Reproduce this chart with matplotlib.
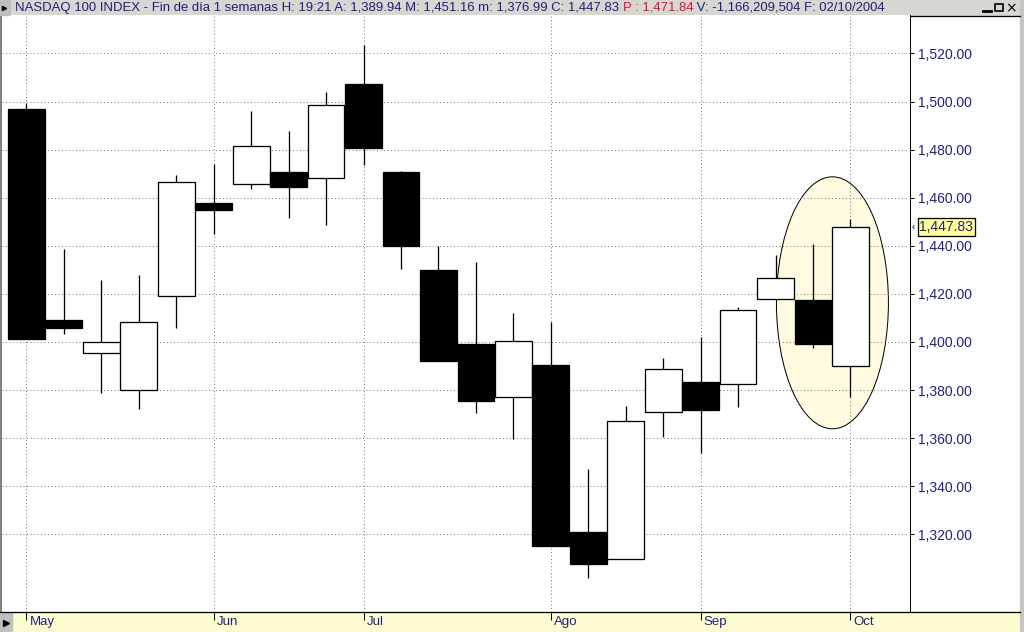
import numpy as np
import matplotlib.pyplot as plt
from matplotlib.patches import Rectangle, Ellipse
from matplotlib.ticker import FuncFormatter

plt.rcParams['font.family'] = ['Liberation Sans', 'DejaVu Sans']

# velas semanales NASDAQ 100 (may - oct 2004)
opens = [1496.9, 1409.1, 1395.3, 1379.9, 1419.0, 1457.7, 1465.6, 1470.6,
         1468.1, 1507.3, 1470.6, 1429.9, 1399.2, 1377.0, 1390.4, 1321.0,
         1309.6, 1370.8, 1383.2, 1382.4, 1417.8, 1417.5, 1389.94]
highs = [1499.5, 1438.5, 1425.8, 1427.9, 1469.4, 1474.1, 1496.0, 1487.7,
         1503.8, 1523.5, 1471.0, 1440.0, 1433.3, 1412.1, 1408.3, 1347.2,
         1373.4, 1393.3, 1402.1, 1414.4, 1436.2, 1440.7, 1451.16]
lows = [1401.4, 1403.5, 1378.7, 1372.3, 1405.9, 1445.0, 1463.7, 1451.7,
        1448.8, 1473.7, 1430.5, 1392.2, 1370.6, 1359.5, 1315.3, 1302.0,
        1309.6, 1360.6, 1353.8, 1372.8, 1417.8, 1397.4, 1376.99]
closes = [1401.4, 1405.9, 1399.9, 1408.2, 1466.4, 1455.0, 1481.4, 1464.6,
          1498.4, 1480.8, 1440.0, 1392.2, 1375.6, 1400.3, 1315.3, 1307.8,
          1367.0, 1388.6, 1371.9, 1413.2, 1426.5, 1399.0, 1447.83]

month_pos = [0, 5, 9, 14, 18, 22]
month_labels = ['May', 'Jun', 'Jul', 'Ago', 'Sep', 'Oct']
price_ticks = [1320, 1340, 1360, 1380, 1400, 1420, 1440, 1460, 1480, 1500, 1520]

# elipse que marca las ultimas tres velas
hl_center = (21.52, 1416.3)
hl_width = 2.99
hl_height = 104.8

title_main = ('NASDAQ 100 INDEX - Fin de día 1 semanas H: 19:21 A: 1,389.94 '
              'M: 1,451.16 m: 1,376.99 C: 1,447.83 ')
title_prev = 'P : 1,471.84'
title_rest = ' V: -1,166,209,504 F: 02/10/2004'

NAVY = '#20207f'
W, H = 1024, 632
PX = 0.72  # 1 pixel en puntos

fig = plt.figure(figsize=(W / 100, H / 100), dpi=100)
fig.patch.set_facecolor('white')

# fondo (coordenadas en pixeles)
bg = fig.add_axes([0, 0, 1, 1], zorder=-5)
bg.set_xlim(0, W)
bg.set_ylim(H, 0)
bg.axis('off')
bg.add_patch(Rectangle((0, 0), W, 15, color='#d8d6d0'))
bg.add_patch(Rectangle((0, 612), W, 20, color='#fdfcd0'))
bg.add_patch(Rectangle((0, 15), 1.5, 597, color='#808080'))
bg.add_patch(Rectangle((1020, 0), 4, H, color='#c8c6c0'))

# grafico principal
ax = fig.add_axes([2 / W, 20 / H, 907.5 / W, 597 / H])
ax.set_xlim(-0.654, 23.578)
ax.set_ylim(1287.7, 1536.0)
for s in ['top', 'left', 'bottom']:
    ax.spines[s].set_visible(False)
ax.spines['right'].set_linewidth(PX)

ax.yaxis.tick_right()
ax.set_yticks(price_ticks)
ax.yaxis.set_major_formatter(FuncFormatter(lambda v, p: f'{v:,.2f}'))
ax.tick_params(axis='y', length=3, width=PX, pad=3, labelsize=10,
               labelcolor=NAVY)
ax.set_xticks(month_pos)
ax.set_xticklabels([])
ax.tick_params(axis='x', length=6, width=PX, direction='out')

ax.set_axisbelow(True)
ax.grid(True, color='#808080', linewidth=PX, linestyle=(0, (1, 2.5)))

# elipse de resalte
ax.add_patch(Ellipse(hl_center, hl_width, hl_height, facecolor='#fffae0',
                     edgecolor='black', linewidth=PX, zorder=0.3))

# velas
body_w = 0.98
x = np.arange(len(opens))
ax.vlines(x, lows, highs, color='black', linewidth=PX * 1.3, zorder=2)
for i in x:
    o, c = opens[i], closes[i]
    fc = 'black' if c < o else 'white'
    ax.add_patch(Rectangle((i - body_w / 2, min(o, c)), body_w, abs(c - o),
                           facecolor=fc, edgecolor='black',
                           linewidth=PX * 1.3, zorder=3))

# etiquetas de meses
for pos, lab in zip(month_pos, month_labels):
    ax.annotate(lab, xy=(pos, 0), xycoords=('data', 'axes fraction'),
                xytext=(3, -4), textcoords='offset pixels', ha='left',
                va='top', fontsize=9.5, color=NAVY, annotation_clip=False)

# etiqueta del ultimo cierre
ax.annotate(f'{closes[-1]:,.2f}', xy=(1, closes[-1]),
            xycoords=('axes fraction', 'data'), xytext=(10, 0),
            textcoords='offset pixels', ha='left', va='center', fontsize=10,
            color=NAVY, annotation_clip=False,
            bbox=dict(boxstyle='square,pad=0.12', fc='#ffff99', ec='black',
                      lw=PX * 1.3))
ax.annotate('‹', xy=(1, closes[-1]), xycoords=('axes fraction', 'data'),
            xytext=(2, 0), textcoords='offset pixels', ha='left',
            va='center', fontsize=7, annotation_clip=False)

# capa superior: cabecera, bordes y botones
fg = fig.add_axes([0, 0, 1, 1], zorder=10)
fg.set_xlim(0, W)
fg.set_ylim(H, 0)
fg.axis('off')
fg.plot([0, 1020], [612, 612], color='black', lw=PX * 1.3)
fg.plot([909.5, 1020], [15.5, 15.5], color='black', lw=PX * 1.3)

t1 = fg.text(15, 8, title_main, fontsize=9.45, color=NAVY, va='center',
             ha='left')
t2 = fg.annotate(title_prev, xy=(1, 0), xycoords=t1, va='bottom',
                 ha='left', fontsize=9.45, color='#e0143c')
fg.annotate(title_rest, xy=(1, 0), xycoords=t2, va='bottom', ha='left',
            fontsize=9.45, color=NAVY)

fg.add_patch(Rectangle((0, 0), 10, 15, color='#c0c0c0'))
fg.plot([4], [8], marker='>', color='black', markersize=3)
fg.add_patch(Rectangle((0, 613), 12, 19, color='#c0c0c0'))
fg.plot([6], [623], marker='>', color='black', markersize=4)

fg.plot([983, 991], [11, 11], color='black', lw=2)
fg.add_patch(Rectangle((995, 4), 8, 7, fill=False, ec='black', lw=1.2))
fg.text(1011, 8, '×', fontsize=10, ha='center', va='center',
        color='black', family='DejaVu Sans')

fig.savefig('out.png', dpi=100)
